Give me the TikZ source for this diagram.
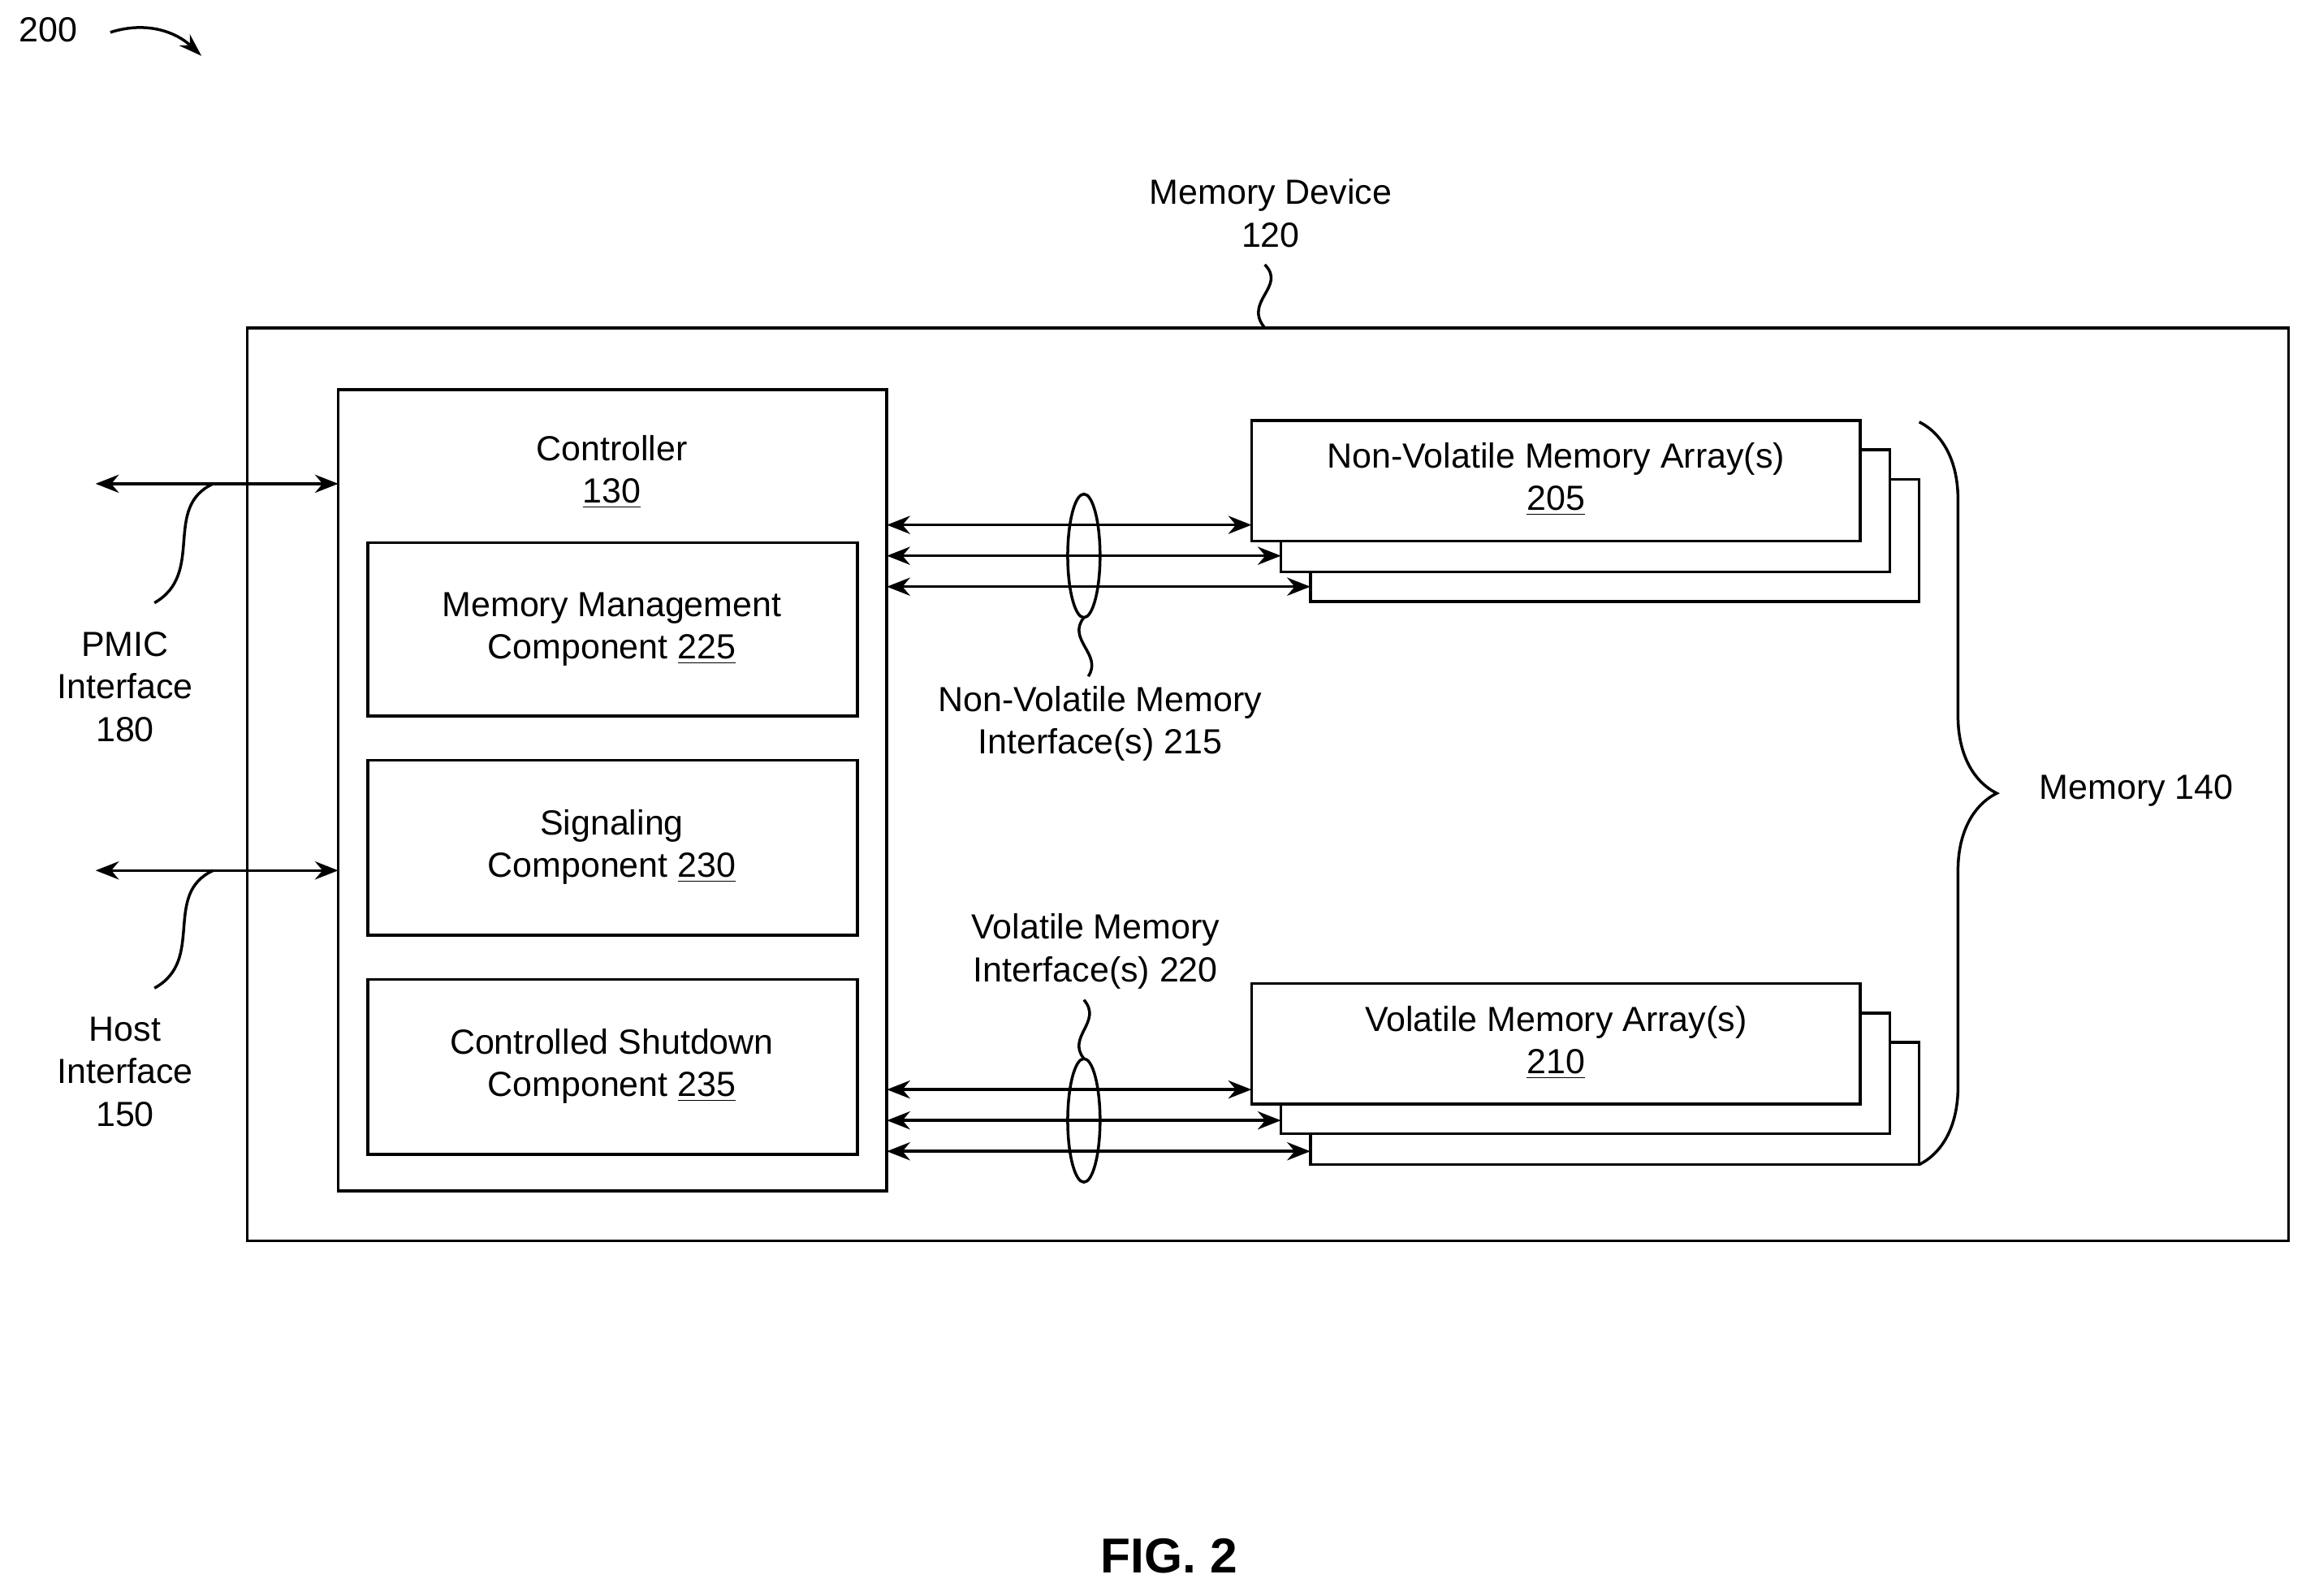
\documentclass[tikz,border=0pt]{standalone}
\usepackage{fontspec}
\setmainfont{Liberation Sans}
\usetikzlibrary{arrows.meta}
\usetikzlibrary{positioning}
\usetikzlibrary{decorations.pathreplacing}
\tikzset{<->/.style = {{Stealth[length=9pt,width=7pt]}-{Stealth[length=9pt,width=7pt]}},
         box/.style = {draw, line width=1.1pt, fill=white},
         lbl/.style = {align=center, font=\fontsize{13.5}{16.5}\selectfont}}
\begin{document}
\begin{tikzpicture}[x=0.02cm, y=-0.02cm, line width=1.1pt]
     \useasboundingbox (0, 0) rectangle (1568, 1085);
     \node [lbl] (fig) at (33, 20) {200};
     \draw [-{Stealth[length=9pt,width=6pt]}] (75, 22) .. controls (100, 14) and (120, 22) .. (137, 38);
     \draw [box] (168, 223) rectangle (1556, 844);
     \node [lbl] (dev) at (864, 145) {Memory Device\\120};
     \coordinate (devtop) at (860, 223);
     \draw (860, 180) .. controls (875, 195) and (845, 205) .. (devtop);
     \draw [box] (230, 265) rectangle (603, 810);
     \node [lbl] (ctrl) at (416, 321) {Controller\\\underline{130}};
     \draw [box] (250, 369) rectangle (583, 487);
     \node [lbl] (mm) at (416, 428) {Memory Management\\Component \underline{225}};
     \draw [box] (250, 517) rectangle (583, 636);
     \node [lbl] (sig) at (416, 576) {Signaling\\Component \underline{230}};
     \draw [box] (250, 666) rectangle (583, 785);
     \node [lbl] (cs) at (416, 725) {Controlled Shutdown\\Component \underline{235}};
     % memory arrays, drawn back to front
     \draw [box] (891, 326) rectangle (1305, 409);
     \draw [box] (871, 306) rectangle (1285, 389);
     \draw [box] (851, 286) rectangle (1265, 368);
     \node [lbl] (nv) at (1058, 326) {Non-Volatile Memory Array(s)\\\underline{205}};
     \draw [box] (891, 709) rectangle (1305, 792);
     \draw [box] (871, 689) rectangle (1285, 771);
     \draw [box] (851, 669) rectangle (1265, 751);
     \node [lbl] (vm) at (1058, 709) {Volatile Memory Array(s)\\\underline{210}};
     % buses
     \foreach \y/\x in {357/851, 378/871, 399/891, 741/851, 762/871, 783/891}
          \draw [<->] (603, \y) -- (\x, \y);
     \draw (737, 378) ellipse (11 and 42);
     \draw (737, 762) ellipse (11 and 42);
     \draw (737, 420) .. controls (725, 435) and (750, 445) .. (740, 460);
     \node [lbl] (nvif) at (748, 492) {Non-Volatile Memory\\Interface(s) 215};
     \draw (737, 720) .. controls (725, 705) and (750, 695) .. (737, 680);
     \node [lbl] (vif) at (745, 647) {Volatile Memory\\Interface(s) 220};
     % memory brace
     \draw [decorate, decoration={brace, amplitude=30pt}] (1305, 287) -- (1305, 792);
     \node [lbl, anchor=west] (mem) at (1380, 538) {Memory 140};
     % external interfaces
     \draw [<->] (65, 329) -- (230, 329);
     \draw (145, 329) .. controls (110, 345) and (140, 390) .. (105, 410);
     \node [lbl] (pmic) at (85, 467) {PMIC\\Interface\\180};
     \draw [<->] (65, 592) -- (230, 592);
     \draw (145, 592) .. controls (110, 608) and (140, 653) .. (105, 672);
     \node [lbl] (host) at (85, 729) {Host\\Interface\\150};
     \node [font=\fontsize{19}{22}\selectfont\bfseries] (cap) at (795, 1058) {FIG. 2};
\end{tikzpicture}
\end{document}
